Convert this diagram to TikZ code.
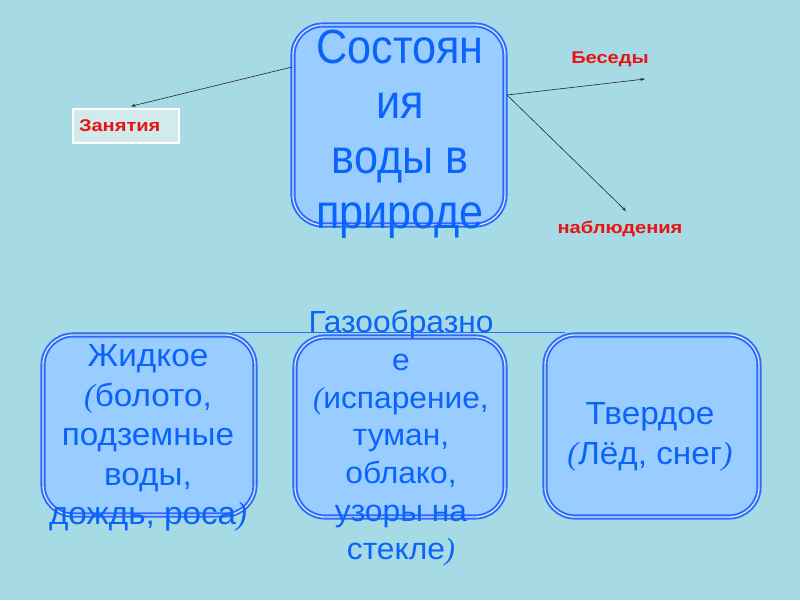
\documentclass[tikz,border=0pt]{standalone}
\usepackage{fontspec}
\setmainfont{Liberation Sans}
\newfontfamily\parfont{Liberation Serif}
\newfontfamily\lblfont[FakeStretch=1.18]{Liberation Sans}
\newfontfamily\topfont[FakeStretch=0.9]{Liberation Sans}
\newfontfamily\midfont[FakeStretch=1.04]{Liberation Sans}
\usetikzlibrary{arrows.meta}
\definecolor{bg}{RGB}{166,218,228}
\definecolor{boxfill}{RGB}{153,204,255}
\definecolor{boxline}{RGB}{45,105,250}
\definecolor{txtblue}{RGB}{10,100,252}
\definecolor{lblred}{RGB}{232,20,20}
\definecolor{tagfill}{RGB}{210,234,236}
\newcommand{\lpar}{{\parfont\itshape(}}
\newcommand{\rpar}{{\parfont\itshape)}}
\begin{document}
\begin{tikzpicture}[x=1pt,y=-1pt,
  statebox/.style={draw=boxline, double=boxfill!45!white, double distance=1.3pt,
    line width=1.9pt, fill=boxfill, rounded corners=30pt, inner sep=0pt},
  bigtxt/.style={text=txtblue, align=center, font=\topfont\fontsize{48}{55}\selectfont},
  midtxt/.style={text=txtblue, align=center, font=\midfont\fontsize{32}{39.5}\selectfont},
  gastxt/.style={text=txtblue, align=center, font=\midfont\fontsize{30.5}{37.8}\selectfont},
  redlbl/.style={text=lblred, font=\lblfont\fontsize{17}{20}\selectfont\bfseries, inner sep=0pt},
  conn/.style={draw=black!85, line width=0.6pt, -{Stealth[length=4.5pt,width=3pt]}},
  tagbox/.style={draw=white, line width=1.5pt, fill=tagfill, minimum width=106pt,
    minimum height=34pt, text width=94pt, align=left, inner xsep=6pt,
    text=lblred, font=\lblfont\fontsize{17}{20}\selectfont\bfseries}
]
\fill[bg] (0,0) rectangle (800,600);
\useasboundingbox (0,0) rectangle (800,600);

% boxes
\node[statebox, minimum width=212pt, minimum height=200pt] (top) at (399,125) {};
\node[statebox, minimum width=212pt, minimum height=180pt] (liq) at (149,425) {};
\node[statebox, minimum width=210pt, minimum height=180pt] (gas) at (400,427) {};
\node[statebox, minimum width=214pt, minimum height=182pt] (sol) at (652,426) {};

% connecting line across the bottom boxes
\coordinate (la) at (232,332);
\coordinate (lb) at (565,332);
\draw[boxline, line width=1pt] (la) -- (lb);

% texts
\node[bigtxt] (toptxt) at (400,134) {Состоян\\ия\\воды в\\природе};
\node[midtxt] (liqtxt) at (148,438) {Жидкое\\\lpar болото,\\подземные\\воды,\\дождь, роса\rpar};
\node[gastxt] (gastext) at (401,438) {Газообразно\\е\\\lpar испарение,\\туман,\\облако,\\узоры на\\стекле\rpar};
\node[midtxt] (soltxt) at (650,437) {Твердое\\\lpar Лёд, снег\rpar};

% labels
\node[tagbox] (zan) at (126,126) {Занятия};
\node[redlbl] (bes) at (610,59) {Беседы};
\node[redlbl] (nab) at (620,229) {наблюдения};

% connectors
\coordinate (zs) at (292,67);
\coordinate (rs) at (507,95);
\coordinate (be) at (645,79);
\coordinate (ne) at (626,211);
\draw[conn] (zs) -- ([shift={(5,-2)}]zan.north);
\draw[conn] (rs) -- (be);
\draw[conn] (rs) -- (ne);
\end{tikzpicture}
\end{document}
